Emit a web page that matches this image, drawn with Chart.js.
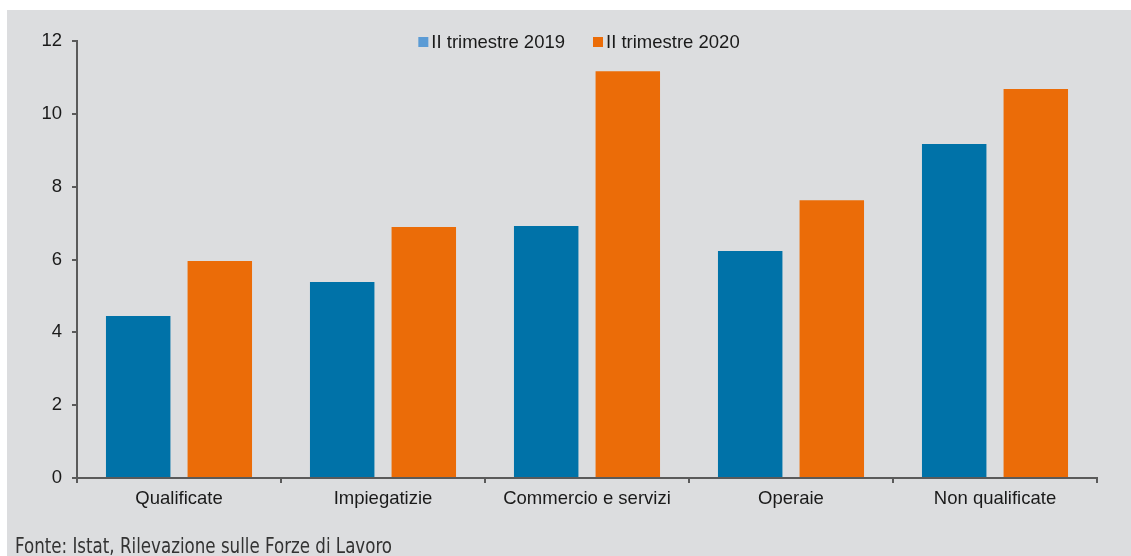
<!DOCTYPE html>
<html>
<head>
<meta charset="utf-8">
<script src="https://cdn.jsdelivr.net/npm/chart.js@4.4.1/dist/chart.umd.min.js"></script>
<style>
  html, body { margin: 0; padding: 0; background: #ffffff; }
  body { width: 1131px; height: 556px; position: relative; overflow: hidden; }
  #bg { position: absolute; left: 7px; top: 10px; width: 1124px; height: 546px; background: #dcdddf; }
  #wrap { position: absolute; left: 0; top: 0; width: 1124px; height: 546px; }
  #src { position: absolute; left: 8px; top: 524px; font-family: 'DejaVu Sans Condensed', 'Liberation Sans', sans-serif; font-size: 21px; color: #333333; white-space: nowrap; transform: scaleX(0.883); transform-origin: 0 0; }
</style>
</head>
<body>
<div id="bg">
  <div id="wrap"><canvas id="c" width="1124" height="546"></canvas></div>
  <div id="src">Fonte: Istat, Rilevazione sulle Forze di Lavoro</div>
</div>
<script>
const categories = ['Qualificate', 'Impiegatizie', 'Commercio e servizi', 'Operaie', 'Non qualificate'];
const seriesNames = ['II trimestre 2019', 'II trimestre 2020'];
const values2019 = [4.45, 5.38, 6.92, 6.23, 9.17];
const values2020 = [5.96, 6.89, 11.17, 7.63, 10.68];
const yTicks = [0, 2, 4, 6, 8, 10, 12];

const barColors = ['#0072a8', '#eb6c08'];
const legendColors = ['#5b9bd5', '#eb6c08'];
const axisColor = '#5a5a5a';
const fontFamily = "'Liberation Sans', Arial, sans-serif";
const fontSize = 18.5;

const legendPlugin = {
  id: 'customLegend',
  afterDraw(chart) {
    const ctx = chart.ctx;
    ctx.save();
    ctx.font = fontSize + 'px ' + fontFamily;
    ctx.textBaseline = 'middle';
    const boxW = 10, gapText = 3, gapItem = 28;
    const widths = seriesNames.map(n => ctx.measureText(n).width);
    const total = widths.reduce((a, w) => a + boxW + gapText + w, 0) + gapItem * (seriesNames.length - 1);
    let x = 572 - total / 2;
    const y = 32;
    seriesNames.forEach((n, i) => {
      ctx.fillStyle = legendColors[i];
      ctx.fillRect(x, y - 5, boxW, boxW);
      ctx.fillStyle = '#1a1a1a';
      ctx.textAlign = 'left';
      ctx.fillText(n, x + boxW + gapText, y + 1);
      x += boxW + gapText + widths[i] + gapItem;
    });
    ctx.restore();
  }
};

new Chart(document.getElementById('c'), {
  type: 'bar',
  data: {
    labels: categories,
    datasets: [
      { label: seriesNames[0], data: values2019, backgroundColor: barColors[0], categoryPercentage: 0.8, barPercentage: 0.79 },
      { label: seriesNames[1], data: values2020, backgroundColor: barColors[1], categoryPercentage: 0.8, barPercentage: 0.79 }
    ]
  },
  options: {
    responsive: false,
    animation: false,
    devicePixelRatio: 1,
    layout: { padding: { top: 31, right: 34, left: 0, bottom: 0 } },
    plugins: { legend: { display: false }, tooltip: { enabled: false } },
    scales: {
      x: {
        offset: true,
        grid: { display: true, offset: true, drawOnChartArea: false, drawTicks: true, tickLength: 5, color: axisColor, lineWidth: 2 },
        border: { display: true, color: axisColor, width: 2 },
        ticks: { color: '#1a1a1a', font: { family: fontFamily, size: fontSize }, padding: 5, maxRotation: 0 },
        afterFit(scale) { scale.height = 78; }
      },
      y: {
        min: 0, max: 12,
        afterBuildTicks(scale) { scale.ticks = yTicks.map(v => ({ value: v })); },
        grid: { display: true, drawOnChartArea: false, drawTicks: true, tickLength: 5, color: axisColor, lineWidth: 2 },
        border: { display: true, color: axisColor, width: 2 },
        ticks: { color: '#1a1a1a', font: { family: fontFamily, size: fontSize }, padding: 10 },
        afterFit(scale) { scale.width = 70; }
      }
    }
  },
  plugins: [legendPlugin]
});
</script>
</body>
</html>
